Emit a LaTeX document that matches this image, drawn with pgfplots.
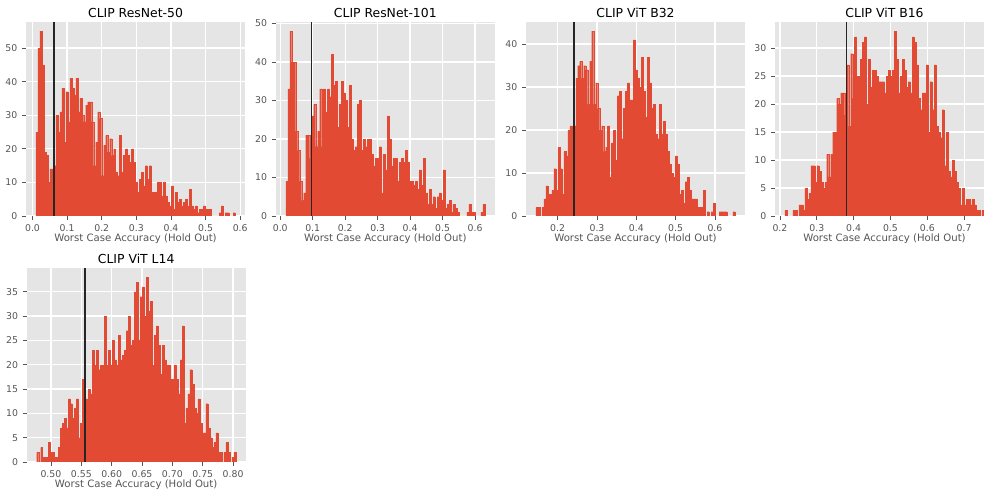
\documentclass[border=0pt]{standalone}
\usepackage{pgfplots}
\pgfplotsset{compat=1.18}
\usepackage{pgfplotstable}
\usepackage{fontspec}
\setmainfont{DejaVu Sans}

\definecolor{barred}{HTML}{E24A33}
\definecolor{bggray}{HTML}{E5E5E5}
\definecolor{tickgray}{HTML}{555555}

% counts per bin, 100 bins each
\pgfplotstableread[row sep=\\]{c\\25\\50\\55\\45\\19\\18\\10\\14\\14\\15\\30\\25\\31\\38\\22\\37\\28\\41\\38\\36\\41\\31\\35\\30\\28\\33\\34\\34\\28\\15\\22\\31\\29\\12\\21\\24\\19\\23\\18\\20\\13\\12\\24\\13\\18\\20\\18\\16\\20\\16\\10\\7\\11\\13\\9\\15\\11\\15\\7\\7\\7\\10\\10\\6\\10\\6\\4\\3\\9\\2\\7\\4\\5\\3\\4\\5\\3\\8\\3\\2\\3\\1\\2\\2\\3\\2\\2\\2\\0\\0\\0\\0\\1\\3\\0\\1\\1\\0\\0\\1\\}\histA
\pgfplotstableread[row sep=\\]{c\\9\\33\\48\\40\\40\\22\\17\\9\\4\\6\\21\\21\\15\\26\\29\\18\\22\\33\\18\\33\\27\\33\\31\\42\\34\\35\\23\\29\\35\\32\\30\\23\\34\\20\\17\\18\\29\\30\\17\\20\\18\\20\\20\\16\\13\\15\\15\\18\\6\\16\\12\\26\\20\\13\\15\\15\\9\\14\\15\\14\\17\\14\\9\\9\\8\\9\\7\\12\\8\\15\\6\\3\\7\\3\\5\\2\\5\\6\\4\\12\\2\\3\\4\\1\\3\\2\\1\\0\\0\\0\\0\\1\\3\\1\\1\\0\\0\\0\\1\\3\\}\histB
\pgfplotstableread[row sep=\\]{c\\2\\2\\0\\2\\4\\7\\5\\5\\6\\11\\6\\16\\11\\5\\15\\14\\20\\21\\16\\21\\32\\35\\36\\32\\35\\34\\26\\36\\43\\26\\31\\25\\20\\21\\15\\16\\21\\9\\17\\20\\13\\28\\29\\18\\25\\29\\31\\27\\27\\41\\34\\32\\30\\37\\29\\23\\37\\31\\25\\26\\19\\18\\26\\19\\22\\19\\15\\12\\10\\9\\14\\12\\5\\6\\3\\8\\9\\6\\4\\4\\4\\2\\2\\2\\6\\0\\1\\0\\1\\3\\0\\0\\1\\1\\1\\1\\0\\0\\0\\1\\}\histC
\pgfplotstableread[row sep=\\]{c\\1\\0\\0\\0\\1\\1\\0\\2\\2\\1\\5\\3\\4\\9\\9\\6\\9\\8\\6\\5\\6\\11\\7\\11\\15\\15\\21\\20\\22\\22\\18\\27\\16\\29\\21\\32\\25\\25\\28\\31\\32\\20\\28\\23\\26\\26\\25\\24\\24\\24\\22\\25\\26\\25\\26\\33\\28\\22\\25\\28\\26\\23\\24\\22\\32\\31\\27\\21\\19\\22\\22\\27\\15\\24\\19\\27\\16\\15\\14\\19\\9\\15\\8\\7\\10\\8\\6\\5\\2\\5\\2\\3\\3\\2\\3\\2\\1\\1\\0\\1\\}\histD
\pgfplotstableread[row sep=\\]{c\\2\\0\\3\\1\\1\\1\\4\\2\\2\\1\\1\\3\\7\\8\\9\\7\\13\\12\\9\\11\\13\\5\\8\\17\\13\\13\\15\\14\\23\\20\\23\\19\\20\\20\\30\\20\\23\\20\\25\\21\\20\\26\\21\\22\\23\\27\\30\\24\\25\\35\\37\\25\\34\\36\\30\\38\\31\\33\\20\\26\\28\\24\\18\\24\\21\\20\\20\\17\\17\\20\\17\\14\\21\\28\\8\\11\\14\\19\\16\\11\\10\\13\\8\\6\\6\\12\\7\\5\\3\\4\\6\\2\\2\\0\\2\\4\\2\\0\\1\\2\\}\histE

\pgfplotsset{
  ggpanel/.style={
    scale only axis, width=164.25pt, height=145.5pt,
    anchor=south west,
    axis background/.style={fill=bggray},
    axis line style={draw=none},
    grid=major, grid style={white, line width=1pt},
    tick align=outside, xtick pos=left, ytick pos=left,
    major tick length=3pt,
    tick style={tickgray, line width=0.6pt},
    tick label style={font=\fontsize{7}{8}\selectfont, text=tickgray},
    /pgf/number format/assume math mode=true,
    xticklabel style={/pgf/number format/.cd, fixed, fixed zerofill, precision=1},
    xlabel={Worst Case Accuracy (Hold Out)},
    label style={font=\fontsize{7.6}{9}\selectfont, text=tickgray},
    xlabel style={yshift=5pt},
    title style={font=\fontsize{9.3}{11}\selectfont, yshift=-6.5pt},
    ymin=0,
  },
  histbar/.style={ybar, bar shift=0pt, fill=barred, draw=barred, line width=0.15pt},
  refline/.style={black!85, line width=1.4pt},
}

\begin{document}
\begin{tikzpicture}
\useasboundingbox (0,0) rectangle (738pt,371.25pt);
\clip (0,0) rectangle (738pt,371.25pt);

\begin{axis}[ggpanel, at={(19.5pt,209.25pt)}, title={CLIP ResNet-50},
  xmin=-0.0188, xmax=0.6138, ymax=57.75,
  xtick={0,0.1,0.2,0.3,0.4,0.5,0.6}, ytick={0,10,20,30,40,50}]
\addplot[histbar, bar width=0.00575] table[x expr={0.010+(\coordindex+0.5)*0.00575}, y=c] {\histA};
\addplot[refline] coordinates {(0.062,0) (0.062,57.75)};
\end{axis}

\begin{axis}[ggpanel, at={(206.85pt,209.25pt)}, title={CLIP ResNet-101},
  xmin=-0.0137, xmax=0.6607, ymax=50.4,
  xtick={0,0.1,0.2,0.3,0.4,0.5,0.6}, ytick={0,10,20,30,40,50}]
\addplot[histbar, bar width=0.00613] table[x expr={0.017+(\coordindex+0.5)*0.00613}, y=c] {\histB};
\addplot[refline] coordinates {(0.0964,0) (0.0964,50.4)};
\end{axis}

\begin{axis}[ggpanel, at={(394.5pt,209.25pt)}, title={CLIP ViT B32},
  xmin=0.1195, xmax=0.6764, ymax=45.15,
  xtick={0.2,0.3,0.4,0.5,0.6}, ytick={0,10,20,30,40}]
\addplot[histbar, bar width=0.00506] table[x expr={0.1448+(\coordindex+0.5)*0.00506}, y=c] {\histC};
\addplot[refline] coordinates {(0.2415,0) (0.2415,45.15)};
\end{axis}

\begin{axis}[ggpanel, at={(581.25pt,209.25pt)}, title={CLIP ViT B16},
  xmin=0.1866, xmax=0.781, ymax=34.65,
  xtick={0.2,0.3,0.4,0.5,0.6,0.7}, ytick={0,5,10,15,20,25,30}]
\addplot[histbar, bar width=0.0054] table[x expr={0.2136+(\coordindex+0.5)*0.0054}, y=c] {\histD};
\addplot[refline] coordinates {(0.3807,0) (0.3807,34.65)};
\end{axis}

\begin{axis}[ggpanel, at={(20pt,24.75pt)}, title={CLIP ViT L14},
  xmin=0.460, xmax=0.8207, ymax=39.9,
  xtick={0.5,0.55,0.6,0.65,0.7,0.75,0.8}, ytick={0,5,10,15,20,25,30,35},
  xticklabel style={/pgf/number format/.cd, fixed, fixed zerofill, precision=2}]
\addplot[histbar, bar width=0.00328] table[x expr={0.4764+(\coordindex+0.5)*0.00328}, y=c] {\histE};
\addplot[refline] coordinates {(0.556,0) (0.556,39.9)};
\end{axis}
\end{tikzpicture}
\end{document}
